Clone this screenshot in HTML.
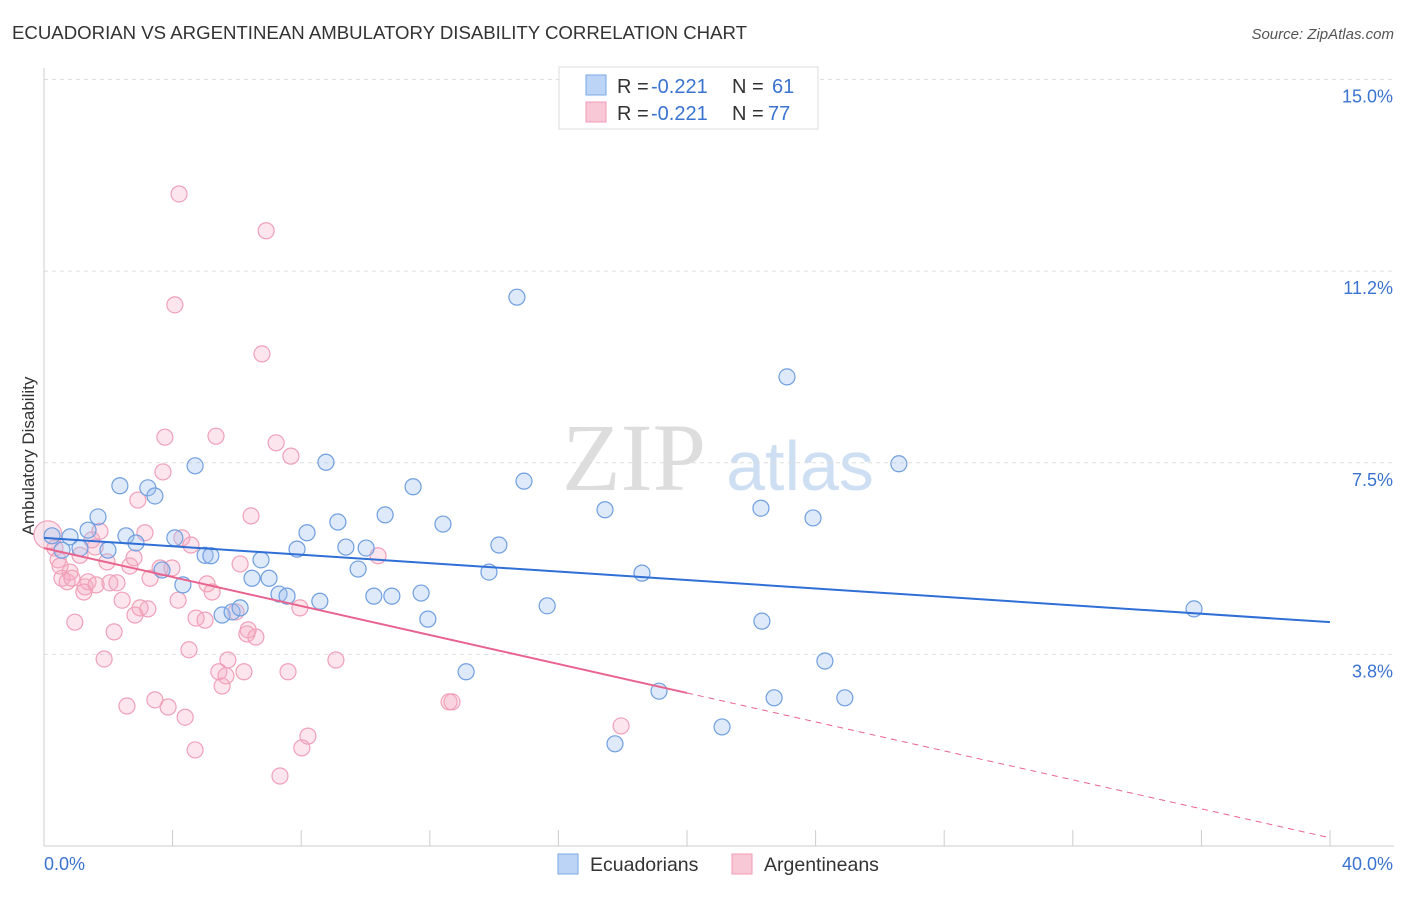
<!DOCTYPE html>
<html><head><meta charset="utf-8"><style>
body{margin:0;background:#fff;font-family:"Liberation Sans",sans-serif;}
</style></head><body>
<svg id="chart" width="1406" height="892" viewBox="0 0 1406 892" xmlns="http://www.w3.org/2000/svg" style="font-family:'Liberation Sans',sans-serif">
<text x="12" y="39" font-size="18" fill="#333" textLength="735" lengthAdjust="spacingAndGlyphs">ECUADORIAN VS ARGENTINEAN AMBULATORY DISABILITY CORRELATION CHART</text>
<text x="1394" y="39" font-size="15" font-style="italic" fill="#555" text-anchor="end">Source: ZipAtlas.com</text>
<text transform="translate(34,456) rotate(-90)" font-size="17" fill="#333" text-anchor="middle">Ambulatory Disability</text>
<g>
<text x="634" y="490" font-size="96" font-family="Liberation Serif,serif" fill="#ddd" text-anchor="middle">ZIP</text>
<text x="800" y="490" font-size="70" fill="#cfdff3" text-anchor="middle">atlas</text>
</g>
<g id="grid"></g><g id="axes"></g><g id="marks"></g>
<g>
<rect x="559" y="67" width="259" height="62" fill="#fff" stroke="#ddd"/>
<rect x="586" y="75" width="20" height="20" fill="#bcd4f6" stroke="#7aa8e8"/>
<rect x="586" y="102" width="20" height="20" fill="#f9c8d6" stroke="#f29ab4"/>
<text x="617" y="93" font-size="20" fill="#333">R =</text>
<text x="651" y="93" font-size="20" fill="#3a73d0">-0.221</text>
<text x="732" y="93" font-size="20" fill="#333">N =</text>
<text x="772" y="93" font-size="20" fill="#3a73d0">61</text>
<text x="617" y="120" font-size="20" fill="#333">R =</text>
<text x="651" y="120" font-size="20" fill="#3a73d0">-0.221</text>
<text x="732" y="120" font-size="20" fill="#333">N =</text>
<text x="768" y="120" font-size="20" fill="#3a73d0">77</text>
</g>
<g>
<rect x="558" y="854" width="20" height="20" fill="#bcd4f6" stroke="#7aa8e8"/>
<text x="590" y="871" font-size="19.5" fill="#333">Ecuadorians</text>
<rect x="732" y="854" width="20" height="20" fill="#f9c8d6" stroke="#f29ab4"/>
<text x="764" y="871" font-size="19.5" fill="#333">Argentineans</text>
</g>
</svg>
<script>
const xTicks=[0,4,8,12,16,20,24,28,32,36,40];
const yTicks=[3.75,7.5,11.25,15];
const yTickLabels=["3.8%","7.5%","11.2%","15.0%"];
const blueX=[0.25,0.56,0.81,1.12,1.37,1.68,1.99,2.36,2.55,2.86,3.23,3.45,3.67,4.07,4.32,4.70,5.01,5.19,5.54,5.85,6.10,6.47,6.75,7.00,7.31,7.56,7.87,8.18,8.58,8.77,9.14,9.39,9.77,10.02,10.26,10.61,10.82,11.48,11.73,11.94,12.41,13.13,13.84,14.15,14.71,14.93,15.65,17.45,17.76,18.60,19.13,21.09,22.30,22.33,22.71,23.11,23.92,24.29,24.91,26.59,35.77];
const blueY=[6.07,5.79,6.05,5.83,6.18,6.44,5.79,7.05,6.07,5.93,7.01,6.85,5.40,6.03,5.11,7.44,5.69,5.68,4.52,4.58,4.66,5.24,5.60,5.24,4.93,4.89,5.81,6.13,4.79,7.51,6.34,5.85,5.42,5.83,4.89,6.48,4.89,7.03,4.95,4.44,6.30,3.41,5.36,5.89,10.74,7.14,4.70,6.58,2.00,5.34,3.03,2.33,6.61,4.40,2.90,9.18,6.42,3.62,2.90,7.48,4.64];
const pinkX=[0.12,0.34,0.44,0.56,0.72,0.81,0.87,0.96,1.12,1.28,1.37,1.49,1.62,1.74,1.87,1.96,2.05,2.18,2.27,2.43,2.58,2.67,2.80,2.92,2.99,3.14,3.23,3.30,3.45,3.61,3.70,3.76,3.86,3.98,4.07,4.20,4.29,4.39,4.51,4.57,4.70,4.73,5.07,5.23,5.35,5.44,5.54,5.66,5.72,5.97,6.10,6.22,6.31,6.44,6.59,6.78,6.91,7.22,7.34,7.59,7.68,7.96,8.02,8.21,9.08,10.39,12.60,12.69,17.95,1.24,2.83,5.01,0.50,4.17,6.35,1.59];
const pinkY=[6.09,5.83,5.60,5.24,5.17,5.36,5.24,4.38,5.69,5.07,5.17,5.99,5.11,6.16,3.66,5.56,5.15,4.19,5.15,4.81,2.74,5.48,5.64,6.77,4.66,6.13,4.64,5.24,2.86,5.44,7.32,8.00,2.72,5.44,10.59,12.76,6.03,2.52,3.84,5.89,1.88,4.46,5.13,4.97,8.02,3.41,3.13,3.33,3.64,4.58,5.52,3.41,4.15,6.46,4.09,9.63,12.04,7.89,1.37,3.41,7.63,4.66,1.92,2.15,3.64,5.68,2.82,2.82,2.35,4.97,4.52,4.42,5.48,4.81,4.23,5.85];
const blueTrend=[6.03,4.38];
const pinkTrend=[5.83,0.16];
const pinkSolidEnd=20;
const NS='http://www.w3.org/2000/svg';
const X=v=>44+v*(1286/40), Y=v=>846-v*51.1;
function mk(t,a,p){const e=document.createElementNS(NS,t);for(const k in a)e.setAttribute(k,a[k]);p.appendChild(e);return e;}
const grid=document.getElementById('grid'),axes=document.getElementById('axes'),marks=document.getElementById('marks');
yTicks.forEach((t,i)=>{
 const l=mk('line',{x1:44,x2:1394,y1:Y(t),y2:Y(t),stroke:'#ddd','stroke-dasharray':'4,4'},grid);
 
 
 const tx=mk('text',{x:1393,y:Y(t)+23,'font-size':18,fill:'#3a73d0','text-anchor':'end'},axes);
 tx.textContent=yTickLabels[i];
 
 
});
const ax=mk('line',{x1:44,x2:1394,y1:846,y2:846,stroke:'#ccc'},axes);


const ay=mk('line',{x1:44,x2:44,y1:68,y2:846,stroke:'#ccc'},axes);


xTicks.forEach(t=>{
 const l=mk('line',{x1:X(t),x2:X(t),y1:830,y2:846,stroke:'#ccc'},axes);
 
 
});
const x0=mk('text',{x:44,y:870,'font-size':18,fill:'#3a73d0'},axes);x0.textContent='0.0%';


const x1=mk('text',{x:1393,y:870,'font-size':18,fill:'#3a73d0','text-anchor':'end'},axes);x1.textContent='40.0%';


pinkX.forEach((v,i)=>{
 const c=mk('circle',{cx:X(v),cy:Y(pinkY[i]),r:i===0?14:8,fill:'rgba(246,170,195,0.3)',stroke:'#f0a0b8','stroke-width':1.2},marks);
 
 
});
blueX.forEach((v,i)=>{
 const c=mk('circle',{cx:X(v),cy:Y(blueY[i]),r:8,fill:'rgba(160,192,238,0.35)',stroke:'#6f9fe0','stroke-width':1.2},marks);
 
 
});
const bt=mk('line',{x1:X(0),y1:Y(blueTrend[0]),x2:X(40),y2:Y(blueTrend[1]),stroke:'#2f6fd6','stroke-width':2},marks);


const pAt=x=>pinkTrend[0]+(pinkTrend[1]-pinkTrend[0])*x/40;
const ps=mk('line',{x1:X(0),y1:Y(pAt(0)),x2:X(pinkSolidEnd),y2:Y(pAt(pinkSolidEnd)),stroke:'#e8648e','stroke-width':2},marks);


const pd=mk('line',{x1:X(pinkSolidEnd),y1:Y(pAt(pinkSolidEnd)),x2:X(40),y2:Y(pAt(40)),stroke:'#e8648e','stroke-width':1,'stroke-dasharray':'6,5'},marks);


</script>
</body></html>
